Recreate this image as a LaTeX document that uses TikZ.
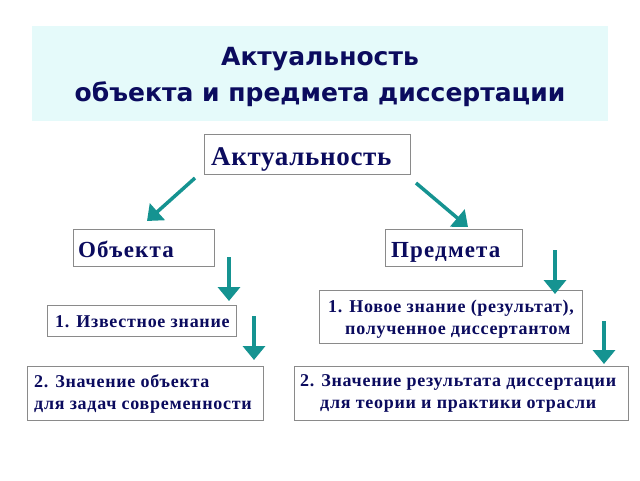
\documentclass[tikz,border=0pt]{standalone}
\usepackage{fontspec}
\setmainfont{Liberation Serif}
\newfontfamily\titlefont{DejaVu Sans}
\newfontfamily\bigfont{Liberation Serif}[LetterSpace=2.5]
\newfontfamily\midfont{Liberation Serif}[LetterSpace=5]
\newfontfamily\smallfont{Liberation Serif}[LetterSpace=4]
\usetikzlibrary{arrows.meta}
\definecolor{navy}{HTML}{0B0B5E}
\definecolor{band}{HTML}{E5FAFA}
\definecolor{teal}{HTML}{159391}
\definecolor{frame}{HTML}{8A8A8A}
\tikzset{
  box/.style={draw=frame, line width=1pt, fill=white, inner sep=0pt, anchor=north west},
  lbl/.style={anchor=base west, inner sep=0pt, text=navy},
  bigtxt/.style={lbl, font=\bigfont\bfseries\fontsize{27}{32}\selectfont},
  midtxt/.style={lbl, font=\midfont\bfseries\fontsize{23}{28}\selectfont},
  smalltxt/.style={lbl, font=\smallfont\bfseries\fontsize{18}{22}\selectfont},
  arr/.style={draw=teal, line width=3.5pt, -{Triangle[length=14pt,width=22pt]}},
}
\begin{document}
\begin{tikzpicture}[x=1pt,y=-1pt]
\useasboundingbox (0,0) rectangle (640,480);
\fill[band] (32,26) rectangle (608,121);
\node[text=navy, font=\titlefont\bfseries\fontsize{25}{36}\selectfont, align=center] (title) at (320,77) {Актуальность\\объекта и предмета диссертации};
\node[box, minimum width=206pt, minimum height=40pt] (akt) at (204,134) {};
\node[bigtxt] (aktt) at (211,165) {Актуальность};
\node[box, minimum width=141pt, minimum height=37pt] (obj) at (73,229) {};
\node[midtxt] (objt) at (78,257) {Объекта};
\node[box, minimum width=137pt, minimum height=37pt] (pred) at (385,229) {};
\node[midtxt] (predt) at (391,257) {Предмета};
\node[box, minimum width=189pt, minimum height=31pt] (izv) at (47,305) {};
\node[smalltxt] (izvt) at (55,327) {1. Известное знание};
\node[box, minimum width=263pt, minimum height=53pt] (nov) at (319,290) {};
\node[smalltxt] (novt1) at (328,312) {1. Новое знание (результат),};
\node[smalltxt] (novt2) at (345,334) {полученное диссертантом};
\node[box, minimum width=236pt, minimum height=54pt] (zo) at (27,366) {};
\node[smalltxt] (zot1) at (34,387) {2. Значение объекта};
\node[smalltxt] (zot2) at (34,409) {для задач современности};
\node[box, minimum width=334pt, minimum height=54pt] (zr) at (294,366) {};
\node[smalltxt] (zrt1) at (300,386) {2. Значение результата диссертации};
\node[smalltxt] (zrt2) at (320,408) {для теории и практики отрасли};
\coordinate (a1s) at (195,178); \coordinate (a1e) at (147,221);
\coordinate (a2s) at (416,183); \coordinate (a2e) at (468,227);
\coordinate (a3s) at (229,257); \coordinate (a3e) at (229,301);
\coordinate (a4s) at (254,316); \coordinate (a4e) at (254,360);
\coordinate (a5s) at (555,250); \coordinate (a5e) at (555,294);
\coordinate (a6s) at (604,321); \coordinate (a6e) at (604,364);
\foreach \i in {1,...,6} \draw[arr] (a\i s) -- (a\i e);
\end{tikzpicture}
\end{document}
